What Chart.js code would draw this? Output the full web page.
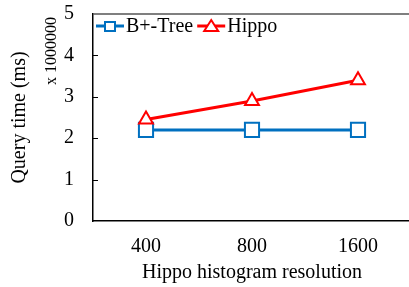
<!DOCTYPE html>
<html>
<head>
<meta charset="utf-8">
<script src="https://cdn.jsdelivr.net/npm/chart.js@4/dist/chart.umd.min.js"></script>
<style>
  html, body { margin: 0; padding: 0; background: #fff; overflow: hidden; }
</style>
</head>
<body>
<canvas id="chart" width="423" height="287"></canvas>
<script>
// data
const resolutions = ['400', '800', '1600'];
const bplusTree = [2.2, 2.2, 2.2];
const hippo = [2.45, 2.9, 3.4];
const yTicks = [0, 1, 2, 3, 4, 5];

const BLUE = '#0070C0';
const RED = '#FF0000';
const FONT = '"Liberation Serif", "Times New Roman", serif';

// legend drawn inside the plot, with line + marker like the original
const innerLegend = {
    id: 'innerLegend',
    afterDraw(chart) {
        const ctx = chart.ctx;
        const area = chart.chartArea;
        const yScale = chart.scales.y;
        ctx.save();

        // top border of the plot
        ctx.strokeStyle = '#555';
        ctx.lineWidth = 1.5;
        ctx.beginPath();
        ctx.moveTo(area.left, area.top);
        ctx.lineTo(area.right, area.top);
        ctx.stroke();

        // inward ticks on the y axis
        ctx.strokeStyle = '#000';
        ctx.lineWidth = 1;
        yTicks.slice(1, -1).forEach(v => {
            const y = Math.round(yScale.getPixelForValue(v)) + 0.5;
            ctx.beginPath();
            ctx.moveTo(area.left, y);
            ctx.lineTo(area.left + 5, y);
            ctx.stroke();
        });

        // multiplier label
        ctx.fillStyle = '#000';
        ctx.font = '16px ' + FONT;
        ctx.textAlign = 'center';
        ctx.textBaseline = 'middle';
        ctx.translate(52, 51);
        ctx.rotate(-Math.PI / 2);
        ctx.fillText('x 1000000', 0, 0);
        ctx.setTransform(1, 0, 0, 1, 0, 0);

        // legend
        const ly = area.top + 12;
        let x = area.left + 3;
        ctx.font = '20px ' + FONT;
        ctx.textAlign = 'left';
        chart.data.datasets.forEach(ds => {
            ctx.strokeStyle = ds.borderColor;
            ctx.lineWidth = 3;
            ctx.beginPath();
            ctx.moveTo(x, ly);
            ctx.lineTo(x + 28, ly);
            ctx.stroke();
            const cx = x + 14;
            ctx.lineWidth = 2;
            ctx.fillStyle = '#fff';
            ctx.beginPath();
            if (ds.pointStyle === 'rect') {
                ctx.rect(cx - 5, ly - 4, 10, 9);
            } else {
                ctx.moveTo(cx, ly - 6);
                ctx.lineTo(cx + 7, ly + 5);
                ctx.lineTo(cx - 7, ly + 5);
                ctx.closePath();
            }
            ctx.fill();
            ctx.stroke();
            ctx.fillStyle = '#000';
            ctx.fillText(ds.label, x + 30, ly + 1);
            x += 30 + ctx.measureText(ds.label).width + 4;
        });
        ctx.restore();
    }
};

new Chart(document.getElementById('chart'), {
    type: 'line',
    data: {
        labels: resolutions,
        datasets: [
            {
                label: 'B+-Tree',
                data: bplusTree,
                borderColor: BLUE,
                borderWidth: 3,
                pointStyle: 'rect',
                pointRadius: 10,
                pointBorderWidth: 2,
                pointBackgroundColor: '#fff',
                pointBorderColor: BLUE,
                order: 1
            },
            {
                label: 'Hippo',
                data: hippo,
                borderColor: RED,
                borderWidth: 3,
                pointStyle: 'triangle',
                pointRadius: 8,
                pointBorderWidth: 2,
                pointBackgroundColor: '#fff',
                pointBorderColor: RED,
                order: 0
            }
        ]
    },
    options: {
        responsive: false,
        animation: false,
        layout: { padding: { top: 14, left: 0, right: 0, bottom: 0 } },
        plugins: {
            legend: { display: false },
            tooltip: { enabled: false }
        },
        scales: {
            x: {
                offset: true,
                grid: { display: false, drawTicks: false },
                border: { display: true, color: '#000', width: 1.5 },
                ticks: { color: '#000', padding: 14, font: { family: FONT, size: 20 } },
                title: {
                    display: true,
                    text: 'Hippo histogram resolution',
                    color: '#000',
                    font: { family: FONT, size: 20 },
                    padding: { top: 0, bottom: 2 }
                },
                afterFit(scale) {
                    scale.height = 66;
                    scale.paddingLeft = 0;
                    scale.paddingRight = 0;
                }
            },
            y: {
                min: 0,
                max: 5,
                grid: { display: false, drawTicks: false },
                border: { display: true, color: '#000', width: 1.5 },
                afterBuildTicks(scale) { scale.ticks = yTicks.map(v => ({ value: v })); },
                ticks: { color: '#000', padding: 19, font: { family: FONT, size: 20 } },
                title: {
                    display: true,
                    text: 'Query time (ms)',
                    color: '#000',
                    font: { family: FONT, size: 20 },
                    padding: { top: 8, bottom: 0 }
                },
                afterFit(scale) {
                    scale.width = 93;
                    scale.paddingTop = 0;
                    scale.paddingBottom = 0;
                }
            }
        }
    },
    plugins: [innerLegend]
});
</script>
</body>
</html>
